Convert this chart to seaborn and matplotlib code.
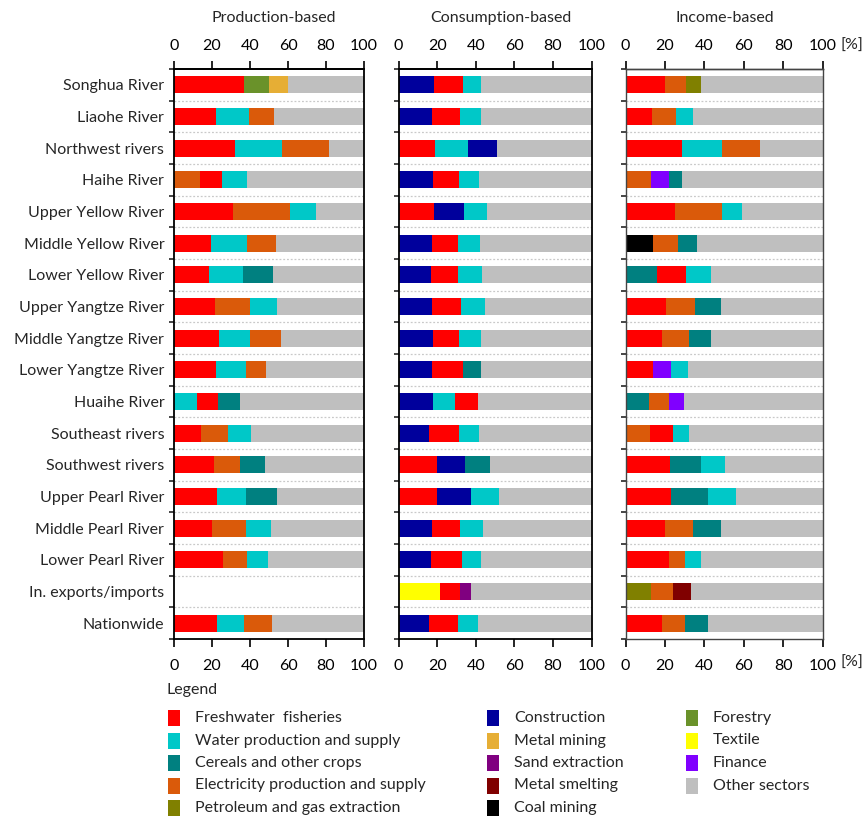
import numpy as np
import pandas as pd
import matplotlib
matplotlib.use("Agg")
import matplotlib.pyplot as plt
from matplotlib.patches import Rectangle
from matplotlib.ticker import FixedLocator
import seaborn as sns

# ---------------------------------------------------------------- data
regions = [
    "Songhua River", "Liaohe River", "Northwest rivers", "Haihe River",
    "Upper Yellow River", "Middle Yellow River", "Lower Yellow River",
    "Upper Yangtze River", "Middle Yangtze River", "Lower Yangtze River",
    "Huaihe River", "Southeast rivers", "Southwest rivers",
    "Upper Pearl River", "Middle Pearl River", "Lower Pearl River",
    "In. exports/imports", "Nationwide",
]

sector_codes = ["FF", "WS", "CE", "EL", "PE", "CO", "MM", "SA", "MS", "CM",
                "FO", "TX", "FI", "OT"]
sector_names = [
    "Freshwater  fisheries", "Water production and supply",
    "Cereals and other crops", "Electricity production and supply",
    "Petroleum and gas extraction", "Construction", "Metal mining",
    "Sand extraction", "Metal smelting", "Coal mining", "Forestry",
    "Textile", "Finance", "Other sectors",
]
sector_colors = [
    "#FF0000", "#00C8C8", "#008080", "#DA5A0A", "#808000", "#00009C",
    "#E6AE35", "#800080", "#800000", "#000000", "#6A922A", "#FFFF00",
    "#8000FF", "#BFBFBF",
]

# Stacking order (left to right) of the leading sectors in every row
prod_seq = ["FF FO MM", "FF WS EL", "FF WS EL", "EL FF WS", "FF EL WS",
            "FF WS EL", "FF WS CE", "FF EL WS", "FF WS EL", "FF WS EL",
            "WS FF CE", "FF EL WS", "FF EL CE", "FF WS CE", "FF EL WS",
            "FF EL WS", "", "FF WS EL"]
prod_vals = [[36.7, 13.1, 10.2], [22.1, 17.2, 13.3], [32.1, 24.7, 24.6],
             [13.7, 11.7, 12.8], [31.1, 30.0, 13.5], [19.3, 18.9, 15.7],
             [18.4, 17.7, 16.0], [21.8, 18.2, 14.2], [23.7, 16.1, 16.5],
             [22.1, 15.8, 10.5], [12.1, 11.2, 11.3], [14.2, 14.2, 12.0],
             [20.9, 13.7, 13.5], [22.5, 15.4, 16.1], [20.0, 18.1, 12.8],
             [25.8, 12.4, 11.4], [], [22.6, 14.4, 14.6]]

cons_seq = ["CO FF WS", "CO FF WS", "FF WS CO", "CO FF WS", "FF CO WS",
            "CO FF WS", "CO FF WS", "CO FF WS", "CO FF WS", "CO FF CE",
            "CO WS FF", "CO FF WS", "FF CO CE", "FF CO WS", "CO FF WS",
            "CO FF WS", "TX FF SA", "CO FF WS"]
cons_vals = [[18.4, 14.8, 9.5], [17.6, 14.3, 10.9], [19.0, 17.2, 14.7],
             [17.8, 13.4, 10.4], [18.6, 15.2, 11.9], [17.2, 13.7, 11.2],
             [16.9, 14.1, 12.3], [17.4, 15.2, 12.2], [17.8, 13.4, 11.7],
             [17.1, 16.2, 9.5], [17.8, 11.7, 11.7], [16.0, 15.3, 10.2],
             [19.8, 14.5, 13.1], [19.8, 17.6, 14.8], [17.1, 14.8, 11.9],
             [16.7, 16.1, 10.0], [21.4, 10.3, 6.1], [15.9, 14.8, 10.7]]

inc_seq = ["FF EL PE", "FF EL WS", "FF WS EL", "EL FI CE", "FF EL WS",
           "CM EL CE", "CE FF WS", "FF EL CE", "FF EL CE", "FF FI WS",
           "CE EL FI", "EL FF WS", "FF CE WS", "FF CE WS", "FF EL CE",
           "FF EL WS", "PE EL MS", "FF EL CE"]
inc_vals = [[20.1, 10.6, 7.8], [13.2, 12.2, 9.0], [28.5, 20.3, 19.3],
            [12.7, 9.5, 6.6], [25.3, 23.6, 10.0], [13.9, 13.0, 9.5],
            [16.0, 14.7, 12.7], [20.6, 14.9, 12.8], [18.6, 13.7, 11.0],
            [14.0, 9.3, 8.3], [11.8, 10.5, 7.6], [12.5, 11.5, 8.3],
            [22.5, 16.0, 11.8], [23.3, 18.8, 14.2], [20.1, 14.2, 14.2],
            [22.0, 8.1, 8.1], [13.0, 11.3, 9.1], [18.6, 11.6, 11.7]]

panel_titles = ["Production-based", "Consumption-based", "Income-based"]
x_ticks = [0, 20, 40, 60, 80, 100]


def long_table(seqs, vals):
    """One row per bar segment, with its cumulative right edge."""
    rows = []
    for region, seq, v in zip(regions, seqs, vals):
        codes = seq.split()
        if not codes:
            continue
        ends = np.cumsum(v)
        for k, (c, e) in enumerate(zip(codes, ends)):
            rows.append(dict(region=region, sector=c, layer=k, end=e))
        # "Other sectors" always fills the row to 100 %
        rows.append(dict(region=region, sector="OT", layer=len(codes), end=100.0))
    return pd.DataFrame(rows)


# ---------------------------------------------------------------- style
sns.set_theme(style="ticks")
plt.rcParams["font.family"] = ["Lato", "DejaVu Sans"]
plt.rcParams["axes.linewidth"] = 1.3

palette = dict(zip(sector_codes, sector_colors))

W, H = 867, 818
fig = plt.figure(figsize=(W / 100, H / 100), dpi=100)

# axes boxes in pixels: (left, right); all share top/bottom
boxes = [(174, 364), (398.5, 591.5), (625.5, 822.5)]
top_px, bot_px = 69, 639
title_cx = [274, 501, 725]

tables = [long_table(prod_seq, prod_vals),
          long_table(cons_seq, cons_vals),
          long_table(inc_seq, inc_vals)]

n = len(regions)
for i, ((l, r), df) in enumerate(zip(boxes, tables)):
    ax = fig.add_axes([l / W, 1 - bot_px / H, (r - l) / W, (bot_px - top_px) / H])
    # widest layer first, shorter cumulative layers drawn on top of it
    for layer in sorted(df["layer"].unique(), reverse=True):
        sub = df[df["layer"] == layer]
        sns.barplot(data=sub, x="end", y="region", hue="sector",
                    order=regions, hue_order=sector_codes, palette=palette,
                    dodge=False, width=0.53, errorbar=None, legend=False,
                    saturation=1, linewidth=0, orient="h", ax=ax)
    ax.set_xlim(0, 100)
    ax.set_ylim(n - 0.5, -0.5)
    ax.set_xlabel("")
    ax.set_ylabel("")

    # dotted separators between rows
    for b in np.arange(0.5, n - 1, 1.0):
        ax.axhline(b, color="#C9C9C9", lw=0.9, ls=(0, (1.5, 1.5)), zorder=0)

    spine_color = "#444444" if i == 2 else "black"
    spine_width = 1.0 if i == 2 else 1.3

    ax.xaxis.set_major_locator(FixedLocator(x_ticks))
    ax.set_xticklabels([str(t) for t in x_ticks])
    ax.tick_params(axis="x", which="major", top=False, bottom=True,
                   labeltop=False, labelbottom=True, direction="out",
                   length=6, width=1.2, pad=8.5, labelsize=11.5,
                   colors="black")

    # percentage scale repeated along the top edge
    sec = ax.secondary_xaxis("top")
    sec.set_xticks(x_ticks)
    sec.set_xticklabels([str(t) for t in x_ticks])
    sec.tick_params(axis="x", direction="out", length=6, width=1.2, pad=5.5,
                    labelsize=11.5, colors="black")
    sec.spines["top"].set_color(spine_color)
    sec.spines["top"].set_linewidth(spine_width)

    ax.yaxis.set_minor_locator(FixedLocator(np.arange(-0.5, n, 1.0)))
    ax.tick_params(axis="y", which="major", length=0, pad=7,
                   labelsize=11.5)
    ax.tick_params(axis="y", which="minor", left=True, length=3.5, width=1.2,
                   direction="out")
    if i > 0:
        ax.set_yticklabels([])
    for s in ax.spines.values():
        s.set_visible(True)
        s.set_color(spine_color)
        s.set_linewidth(spine_width)
    ax.grid(False)

    fig.text(title_cx[i] / W, 1 - 18 / H, panel_titles[i], ha="center",
             va="center", fontsize=11.5)

# unit markers at the right of both tick rows
fig.text(840 / W, 1 - 46 / H, "[%]", ha="left", va="center", fontsize=11.5)
fig.text(840 / W, 1 - 663 / H, "[%]", ha="left", va="center", fontsize=11.5)

# ---------------------------------------------------------------- legend
fig.text(167 / W, 1 - 690 / H, "Legend", ha="left", va="center", fontsize=11.5)
col_x = [168, 487, 686]
row_y0, row_dy = 718, 22.5
for k, (name, color) in enumerate(zip(sector_names, sector_colors)):
    col, row = divmod(k, 5)
    x0 = col_x[col]
    y0 = row_y0 + row * row_dy
    fig.patches.append(Rectangle((x0 / W, 1 - (y0 + 8) / H), 12 / W, 16 / H,
                                 transform=fig.transFigure, color=color,
                                 linewidth=0))
    fig.text((x0 + 27) / W, 1 - y0 / H, name, ha="left", va="center",
             fontsize=11.5)

fig.savefig("out.png", dpi=100)
